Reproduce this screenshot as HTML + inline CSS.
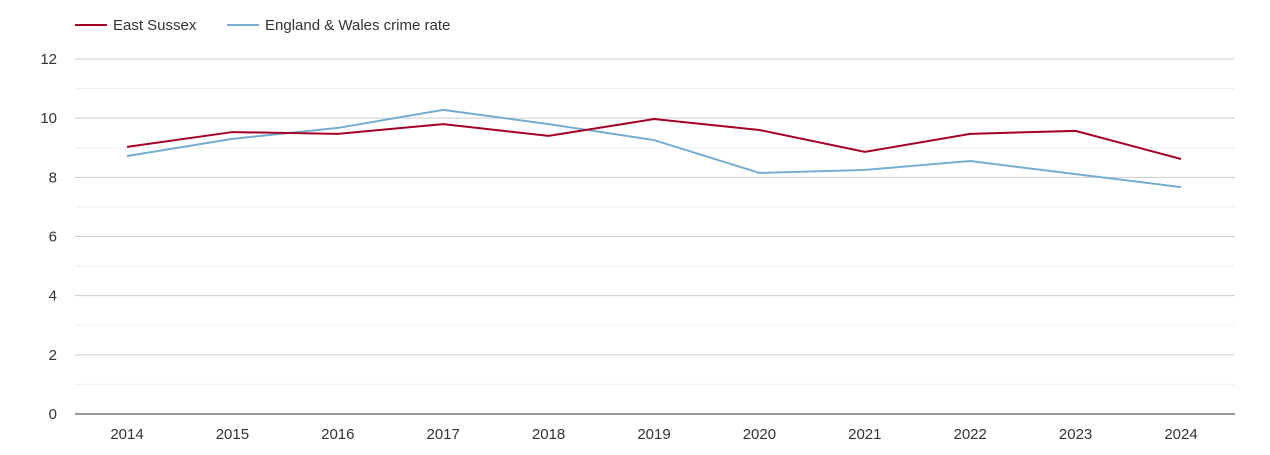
<!DOCTYPE html>
<html><head><meta charset="utf-8"><style>
body{margin:0;background:#fff;font-family:"Liberation Sans",sans-serif;}
svg text{font-family:"Liberation Sans",sans-serif;fill:#333;}
</style></head><body>
<svg id="chart" width="1270" height="450" xmlns="http://www.w3.org/2000/svg">
<g>
<line x1="75" y1="25" x2="107" y2="25" stroke="#a50026" stroke-width="2"/>
<text x="113" y="30" font-size="15">East Sussex</text>
<line x1="227" y1="25" x2="259" y2="25" stroke="#74add1" stroke-width="2"/>
<text x="265" y="30" font-size="15">England &amp; Wales crime rate</text>
</g>
<g id="grid"></g>
<g id="series"></g>
</svg>
<script>
const years=["2014","2015","2016","2017","2018","2019","2020","2021","2022","2023","2024"];
const eastSussex=[9.03,9.53,9.47,9.8,9.4,9.97,9.6,8.86,9.47,9.57,8.62];
const englandWales=[8.72,9.3,9.67,10.28,9.8,9.26,8.15,8.25,8.55,8.11,7.67];
const yTicks=[0,2,4,6,8,10,12];
const NS="http://www.w3.org/2000/svg";
const plotLeft=75,plotRight=1235,plotTop=59,plotBottom=414,yMax=12;
const x=i=>127+i*(1181-127)/(years.length-1);
const y=v=>plotBottom-v*(plotBottom-plotTop)/yMax;
const grid=document.getElementById('grid'),series=document.getElementById('series');
function mk(tag,attrs,parent){const e=document.createElementNS(NS,tag);for(const k in attrs)e.setAttribute(k,attrs[k]);parent.appendChild(e);return e;}
for(let v=1;v<=yMax;v+=2){const l=mk('line',{x1:plotLeft,x2:plotRight,y1:y(v),y2:y(v),stroke:'#eeeeee'},grid);

}
yTicks.forEach(v=>{if(v>0){const l=mk('line',{x1:plotLeft,x2:plotRight,y1:y(v),y2:y(v),stroke:'#cccccc'},grid);

}
const t=mk('text',{x:57,y:y(v)+5,'font-size':15,'text-anchor':'end'},grid);t.textContent=v;

});
const ax=mk('line',{x1:plotLeft,x2:plotRight,y1:plotBottom,y2:plotBottom,stroke:'#333'},grid);


years.forEach((yr,i)=>{const t=mk('text',{x:x(i),y:439,'font-size':15,'text-anchor':'middle'},grid);t.textContent=yr;

});
function line(vals,color,name){const p=mk('polyline',{points:vals.map((v,i)=>x(i)+','+y(v)).join(' '),fill:'none',stroke:color,'stroke-width':2},series);

}
line(englandWales,'#74add1','england-wales-line');
line(eastSussex,'#a50026','east-sussex-line');
</script>
</body></html>
